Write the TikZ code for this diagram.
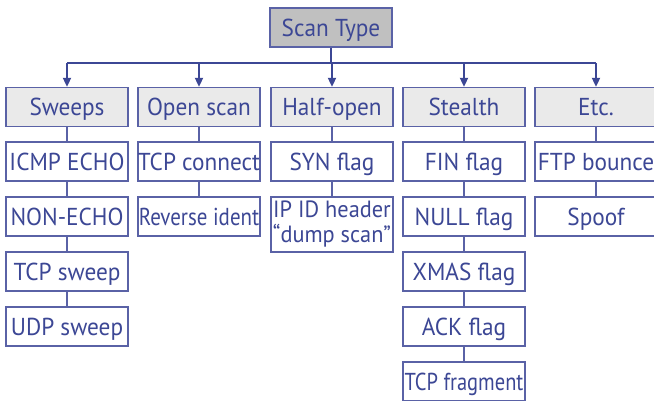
\documentclass[tikz,border=0pt]{standalone}
\usepackage{fontspec}
\setmainfont[FakeStretch=0.95]{PT Sans}
\usetikzlibrary{arrows.meta}
\definecolor{ink}{HTML}{3C4795}
\definecolor{frame}{HTML}{5A62A6}
\definecolor{topfill}{HTML}{C0C0C0}
\definecolor{catfill}{HTML}{EAEAEA}
% horizontally narrowed label for the long captions
\newcommand{\narrow}[2]{\scalebox{#1}[1]{#2}}
\begin{document}
\begin{tikzpicture}[x=1pt,y=-1pt,
  box/.style={draw=frame,line width=1.3pt,minimum width=122pt,minimum height=39pt,
    inner sep=0pt,text=ink,font=\fontsize{24.5}{26}\selectfont,align=center},
  oneline/.style={box,text height=17pt,text depth=0pt},
  rootbox/.style={oneline,fill=topfill},
  catbox/.style={oneline,fill=catfill},
  leafbox/.style={oneline,fill=white},
  tallbox/.style={box,fill=white,minimum height=55pt,font=\fontsize{23.5}{25}\selectfont},
  branch/.style={draw=ink,line width=1.8pt,-{Triangle[length=9pt,width=8pt]}},
  trunk/.style={draw=ink,line width=1.8pt},
  link/.style={draw=frame,line width=1.3pt}]
\useasboundingbox (0,0) rectangle (654,400);

% root
\node[rootbox] (root) at (331,27.5) {Scan Type};

% categories
\node[catbox] (sw) at (67,107)  {Sweeps};
\node[catbox] (op) at (199,107) {Open scan};
\node[catbox] (ho) at (332,107) {Half-open};
\node[catbox] (st) at (464,107) {Stealth};
\node[catbox] (et) at (596,107) {Etc.};

% sweeps
\node[leafbox] (sw1) at (67,161.5) {ICMP ECHO};
\node[leafbox] (sw2) at (67,216.5) {NON-ECHO};
\node[leafbox] (sw3) at (67,271.5) {TCP sweep};
\node[leafbox] (sw4) at (67,326.5) {UDP sweep};

% open scan
\node[leafbox] (op1) at (199,161.5) {TCP connect};
\node[leafbox] (op2) at (199,216.5) {\narrow{0.90}{Reverse ident}};

% half-open
\node[leafbox] (ho1) at (332,161.5) {SYN flag};
\node[tallbox] (ho2) at (332,224.5) {IP ID header\\“dump scan”};

% stealth
\node[leafbox] (st1) at (464,161.5) {FIN flag};
\node[leafbox] (st2) at (464,216.5) {NULL flag};
\node[leafbox] (st3) at (464,271.5) {XMAS flag};
\node[leafbox] (st4) at (464,326.5) {ACK flag};
\node[leafbox] (st5) at (464,381.5) {\narrow{0.88}{TCP fragment}};

% etc.
\node[leafbox] (et1) at (596,161.5) {FTP bounce};
\node[leafbox] (et2) at (596,216.5) {Spoof};

% fan-out from the root
\coordinate (bus) at (root.south |- 0,63);
\draw[trunk] (root.south) -- (bus);
\draw[trunk] (sw.north |- bus) -- (et.north |- bus);
\foreach \c in {sw,op,ho,st,et}
  \draw[branch] (\c.north |- bus) -- (\c.north);

% chains below each category
\draw[link] (sw.south) -- (sw1.north) (sw1.south) -- (sw2.north)
            (sw2.south) -- (sw3.north) (sw3.south) -- (sw4.north);
\draw[link] (op.south) -- (op1.north) (op1.south) -- (op2.north);
\draw[link] (ho.south) -- (ho1.north) (ho1.south) -- (ho2.north);
\draw[link] (st.south) -- (st1.north) (st1.south) -- (st2.north)
            (st2.south) -- (st3.north) (st3.south) -- (st4.north)
            (st4.south) -- (st5.north);
\draw[link] (et.south) -- (et1.north) (et1.south) -- (et2.north);
\end{tikzpicture}
\end{document}
